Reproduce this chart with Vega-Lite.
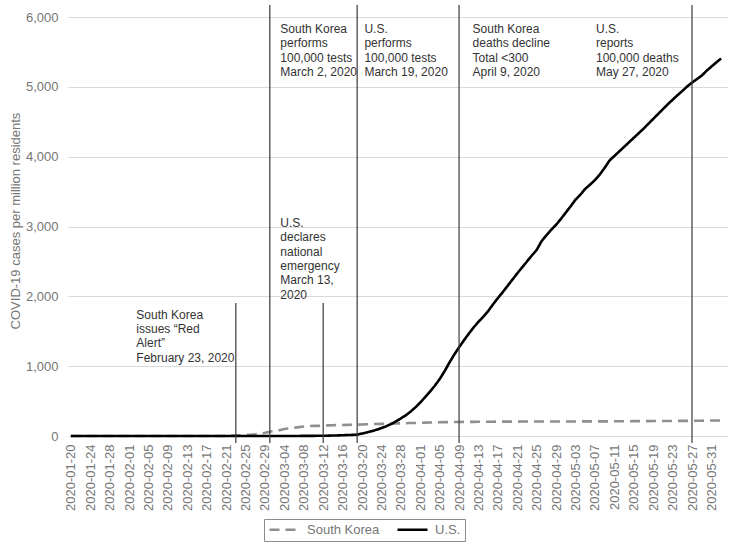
{
  "$schema": "https://vega.github.io/schema/vega-lite/v6.json",
  "width": 660,
  "height": 431,
  "autosize": {"type": "none"},
  "padding": {"left": 68, "top": 5, "right": 1, "bottom": 109},
  "background": "white",
  "config": {
    "view": {"stroke": null},
    "font": "Liberation Sans",
    "axis": {"labelFont": "Liberation Sans", "titleFont": "Liberation Sans"},
    "axisX": {"labelOverlap": false}
  },
  "datasets": {
    "series": [
      {"date":"2020-01-20","country":"South Korea","value":0},
      {"date":"2020-01-21","country":"South Korea","value":0.02},
      {"date":"2020-01-22","country":"South Korea","value":0.02},
      {"date":"2020-01-23","country":"South Korea","value":0.02},
      {"date":"2020-01-24","country":"South Korea","value":0.02},
      {"date":"2020-01-25","country":"South Korea","value":0.04},
      {"date":"2020-01-26","country":"South Korea","value":0.04},
      {"date":"2020-01-27","country":"South Korea","value":0.06},
      {"date":"2020-01-28","country":"South Korea","value":0.08},
      {"date":"2020-01-29","country":"South Korea","value":0.08},
      {"date":"2020-01-30","country":"South Korea","value":0.08},
      {"date":"2020-01-31","country":"South Korea","value":0.13},
      {"date":"2020-02-01","country":"South Korea","value":0.21},
      {"date":"2020-02-02","country":"South Korea","value":0.23},
      {"date":"2020-02-03","country":"South Korea","value":0.29},
      {"date":"2020-02-04","country":"South Korea","value":0.29},
      {"date":"2020-02-05","country":"South Korea","value":0.31},
      {"date":"2020-02-06","country":"South Korea","value":0.37},
      {"date":"2020-02-07","country":"South Korea","value":0.45},
      {"date":"2020-02-08","country":"South Korea","value":0.46},
      {"date":"2020-02-09","country":"South Korea","value":0.46},
      {"date":"2020-02-10","country":"South Korea","value":0.52},
      {"date":"2020-02-11","country":"South Korea","value":0.54},
      {"date":"2020-02-12","country":"South Korea","value":0.54},
      {"date":"2020-02-13","country":"South Korea","value":0.54},
      {"date":"2020-02-14","country":"South Korea","value":0.54},
      {"date":"2020-02-15","country":"South Korea","value":0.54},
      {"date":"2020-02-16","country":"South Korea","value":0.56},
      {"date":"2020-02-17","country":"South Korea","value":0.56},
      {"date":"2020-02-18","country":"South Korea","value":0.58},
      {"date":"2020-02-19","country":"South Korea","value":0.6},
      {"date":"2020-02-20","country":"South Korea","value":1.0},
      {"date":"2020-02-21","country":"South Korea","value":2.0},
      {"date":"2020-02-22","country":"South Korea","value":3.9},
      {"date":"2020-02-23","country":"South Korea","value":8.4},
      {"date":"2020-02-24","country":"South Korea","value":11.6},
      {"date":"2020-02-25","country":"South Korea","value":16.1},
      {"date":"2020-02-26","country":"South Korea","value":18.9},
      {"date":"2020-02-27","country":"South Korea","value":24.4},
      {"date":"2020-02-28","country":"South Korea","value":34.2},
      {"date":"2020-02-29","country":"South Korea","value":45.2},
      {"date":"2020-03-01","country":"South Korea","value":60.9},
      {"date":"2020-03-02","country":"South Korea","value":72.3},
      {"date":"2020-03-03","country":"South Korea","value":83.8},
      {"date":"2020-03-04","country":"South Korea","value":100.3},
      {"date":"2020-03-05","country":"South Korea","value":108.7},
      {"date":"2020-03-06","country":"South Korea","value":117.8},
      {"date":"2020-03-07","country":"South Korea","value":127.5},
      {"date":"2020-03-08","country":"South Korea","value":136.2},
      {"date":"2020-03-09","country":"South Korea","value":141.5},
      {"date":"2020-03-10","country":"South Korea","value":144.6},
      {"date":"2020-03-11","country":"South Korea","value":145.3},
      {"date":"2020-03-12","country":"South Korea","value":150.0},
      {"date":"2020-03-13","country":"South Korea","value":152.2},
      {"date":"2020-03-14","country":"South Korea","value":154.3},
      {"date":"2020-03-15","country":"South Korea","value":156.4},
      {"date":"2020-03-16","country":"South Korea","value":157.9},
      {"date":"2020-03-17","country":"South Korea","value":159.3},
      {"date":"2020-03-18","country":"South Korea","value":160.9},
      {"date":"2020-03-19","country":"South Korea","value":162.7},
      {"date":"2020-03-20","country":"South Korea","value":165.7},
      {"date":"2020-03-21","country":"South Korea","value":167.4},
      {"date":"2020-03-22","country":"South Korea","value":170.2},
      {"date":"2020-03-23","country":"South Korea","value":172.1},
      {"date":"2020-03-24","country":"South Korea","value":173.3},
      {"date":"2020-03-25","country":"South Korea","value":174.8},
      {"date":"2020-03-26","country":"South Korea","value":176.7},
      {"date":"2020-03-27","country":"South Korea","value":178.7},
      {"date":"2020-03-28","country":"South Korea","value":180.5},
      {"date":"2020-03-29","country":"South Korea","value":183.3},
      {"date":"2020-03-30","country":"South Korea","value":185.4},
      {"date":"2020-03-31","country":"South Korea","value":186.9},
      {"date":"2020-04-01","country":"South Korea","value":189.3},
      {"date":"2020-04-02","country":"South Korea","value":191.2},
      {"date":"2020-04-03","country":"South Korea","value":193.0},
      {"date":"2020-04-04","country":"South Korea","value":194.6},
      {"date":"2020-04-05","country":"South Korea","value":196.4},
      {"date":"2020-04-06","country":"South Korea","value":198.0},
      {"date":"2020-04-07","country":"South Korea","value":198.9},
      {"date":"2020-04-08","country":"South Korea","value":199.8},
      {"date":"2020-04-09","country":"South Korea","value":200.9},
      {"date":"2020-04-10","country":"South Korea","value":201.6},
      {"date":"2020-04-11","country":"South Korea","value":202.1},
      {"date":"2020-04-12","country":"South Korea","value":202.7},
      {"date":"2020-04-13","country":"South Korea","value":203.3},
      {"date":"2020-04-14","country":"South Korea","value":203.8},
      {"date":"2020-04-15","country":"South Korea","value":204.3},
      {"date":"2020-04-16","country":"South Korea","value":204.9},
      {"date":"2020-04-17","country":"South Korea","value":205.3},
      {"date":"2020-04-18","country":"South Korea","value":205.7},
      {"date":"2020-04-19","country":"South Korea","value":206.1},
      {"date":"2020-04-20","country":"South Korea","value":206.2},
      {"date":"2020-04-21","country":"South Korea","value":206.5},
      {"date":"2020-04-22","country":"South Korea","value":206.6},
      {"date":"2020-04-23","country":"South Korea","value":206.8},
      {"date":"2020-04-24","country":"South Korea","value":207.0},
      {"date":"2020-04-25","country":"South Korea","value":207.1},
      {"date":"2020-04-26","country":"South Korea","value":207.3},
      {"date":"2020-04-27","country":"South Korea","value":207.5},
      {"date":"2020-04-28","country":"South Korea","value":207.7},
      {"date":"2020-04-29","country":"South Korea","value":208.0},
      {"date":"2020-04-30","country":"South Korea","value":208.1},
      {"date":"2020-05-01","country":"South Korea","value":208.2},
      {"date":"2020-05-02","country":"South Korea","value":208.4},
      {"date":"2020-05-03","country":"South Korea","value":208.5},
      {"date":"2020-05-04","country":"South Korea","value":208.8},
      {"date":"2020-05-05","country":"South Korea","value":208.9},
      {"date":"2020-05-06","country":"South Korea","value":209.0},
      {"date":"2020-05-07","country":"South Korea","value":209.0},
      {"date":"2020-05-08","country":"South Korea","value":209.1},
      {"date":"2020-05-09","country":"South Korea","value":209.3},
      {"date":"2020-05-10","country":"South Korea","value":209.7},
      {"date":"2020-05-11","country":"South Korea","value":210.3},
      {"date":"2020-05-12","country":"South Korea","value":211.0},
      {"date":"2020-05-13","country":"South Korea","value":211.5},
      {"date":"2020-05-14","country":"South Korea","value":212.0},
      {"date":"2020-05-15","country":"South Korea","value":212.6},
      {"date":"2020-05-16","country":"South Korea","value":213.1},
      {"date":"2020-05-17","country":"South Korea","value":213.5},
      {"date":"2020-05-18","country":"South Korea","value":213.7},
      {"date":"2020-05-19","country":"South Korea","value":214.0},
      {"date":"2020-05-20","country":"South Korea","value":214.3},
      {"date":"2020-05-21","country":"South Korea","value":214.9},
      {"date":"2020-05-22","country":"South Korea","value":215.1},
      {"date":"2020-05-23","country":"South Korea","value":215.5},
      {"date":"2020-05-24","country":"South Korea","value":216.0},
      {"date":"2020-05-25","country":"South Korea","value":216.4},
      {"date":"2020-05-26","country":"South Korea","value":216.8},
      {"date":"2020-05-27","country":"South Korea","value":217.1},
      {"date":"2020-05-28","country":"South Korea","value":217.9},
      {"date":"2020-05-29","country":"South Korea","value":219.4},
      {"date":"2020-05-30","country":"South Korea","value":220.5},
      {"date":"2020-05-31","country":"South Korea","value":221.3},
      {"date":"2020-06-01","country":"South Korea","value":221.8},
      {"date":"2020-06-02","country":"South Korea","value":222.5},
      {"date":"2020-01-20","country":"U.S.","value":0},
      {"date":"2020-01-21","country":"U.S.","value":0},
      {"date":"2020-01-22","country":"U.S.","value":0},
      {"date":"2020-01-23","country":"U.S.","value":0},
      {"date":"2020-01-24","country":"U.S.","value":0.01},
      {"date":"2020-01-25","country":"U.S.","value":0.01},
      {"date":"2020-01-26","country":"U.S.","value":0.01},
      {"date":"2020-01-27","country":"U.S.","value":0.02},
      {"date":"2020-01-28","country":"U.S.","value":0.02},
      {"date":"2020-01-29","country":"U.S.","value":0.02},
      {"date":"2020-01-30","country":"U.S.","value":0.02},
      {"date":"2020-01-31","country":"U.S.","value":0.02},
      {"date":"2020-02-01","country":"U.S.","value":0.02},
      {"date":"2020-02-02","country":"U.S.","value":0.02},
      {"date":"2020-02-03","country":"U.S.","value":0.03},
      {"date":"2020-02-04","country":"U.S.","value":0.03},
      {"date":"2020-02-05","country":"U.S.","value":0.03},
      {"date":"2020-02-06","country":"U.S.","value":0.03},
      {"date":"2020-02-07","country":"U.S.","value":0.04},
      {"date":"2020-02-08","country":"U.S.","value":0.04},
      {"date":"2020-02-09","country":"U.S.","value":0.04},
      {"date":"2020-02-10","country":"U.S.","value":0.04},
      {"date":"2020-02-11","country":"U.S.","value":0.04},
      {"date":"2020-02-12","country":"U.S.","value":0.04},
      {"date":"2020-02-13","country":"U.S.","value":0.04},
      {"date":"2020-02-14","country":"U.S.","value":0.05},
      {"date":"2020-02-15","country":"U.S.","value":0.05},
      {"date":"2020-02-16","country":"U.S.","value":0.05},
      {"date":"2020-02-17","country":"U.S.","value":0.05},
      {"date":"2020-02-18","country":"U.S.","value":0.05},
      {"date":"2020-02-19","country":"U.S.","value":0.05},
      {"date":"2020-02-20","country":"U.S.","value":0.05},
      {"date":"2020-02-21","country":"U.S.","value":0.05},
      {"date":"2020-02-22","country":"U.S.","value":0.05},
      {"date":"2020-02-23","country":"U.S.","value":0.05},
      {"date":"2020-02-24","country":"U.S.","value":0.05},
      {"date":"2020-02-25","country":"U.S.","value":0.15},
      {"date":"2020-02-26","country":"U.S.","value":0.16},
      {"date":"2020-02-27","country":"U.S.","value":0.18},
      {"date":"2020-02-28","country":"U.S.","value":0.18},
      {"date":"2020-02-29","country":"U.S.","value":0.19},
      {"date":"2020-03-01","country":"U.S.","value":0.2},
      {"date":"2020-03-02","country":"U.S.","value":0.2},
      {"date":"2020-03-03","country":"U.S.","value":0.3},
      {"date":"2020-03-04","country":"U.S.","value":0.4},
      {"date":"2020-03-05","country":"U.S.","value":0.5},
      {"date":"2020-03-06","country":"U.S.","value":0.7},
      {"date":"2020-03-07","country":"U.S.","value":1.0},
      {"date":"2020-03-08","country":"U.S.","value":1.3},
      {"date":"2020-03-09","country":"U.S.","value":1.6},
      {"date":"2020-03-10","country":"U.S.","value":2.1},
      {"date":"2020-03-11","country":"U.S.","value":3.0},
      {"date":"2020-03-12","country":"U.S.","value":3.9},
      {"date":"2020-03-13","country":"U.S.","value":4.9},
      {"date":"2020-03-14","country":"U.S.","value":6.6},
      {"date":"2020-03-15","country":"U.S.","value":8.4},
      {"date":"2020-03-16","country":"U.S.","value":10.9},
      {"date":"2020-03-17","country":"U.S.","value":13.9},
      {"date":"2020-03-18","country":"U.S.","value":16},
      {"date":"2020-03-19","country":"U.S.","value":20},
      {"date":"2020-03-20","country":"U.S.","value":35},
      {"date":"2020-03-21","country":"U.S.","value":50},
      {"date":"2020-03-22","country":"U.S.","value":68},
      {"date":"2020-03-23","country":"U.S.","value":90},
      {"date":"2020-03-24","country":"U.S.","value":113},
      {"date":"2020-03-25","country":"U.S.","value":140},
      {"date":"2020-03-26","country":"U.S.","value":172},
      {"date":"2020-03-27","country":"U.S.","value":210},
      {"date":"2020-03-28","country":"U.S.","value":252},
      {"date":"2020-03-29","country":"U.S.","value":295},
      {"date":"2020-03-30","country":"U.S.","value":348},
      {"date":"2020-03-31","country":"U.S.","value":410},
      {"date":"2020-04-01","country":"U.S.","value":480},
      {"date":"2020-04-02","country":"U.S.","value":555},
      {"date":"2020-04-03","country":"U.S.","value":635},
      {"date":"2020-04-04","country":"U.S.","value":720},
      {"date":"2020-04-05","country":"U.S.","value":815},
      {"date":"2020-04-06","country":"U.S.","value":925},
      {"date":"2020-04-07","country":"U.S.","value":1050},
      {"date":"2020-04-08","country":"U.S.","value":1165},
      {"date":"2020-04-09","country":"U.S.","value":1270},
      {"date":"2020-04-10","country":"U.S.","value":1370},
      {"date":"2020-04-11","country":"U.S.","value":1465},
      {"date":"2020-04-12","country":"U.S.","value":1555},
      {"date":"2020-04-13","country":"U.S.","value":1635},
      {"date":"2020-04-14","country":"U.S.","value":1710},
      {"date":"2020-04-15","country":"U.S.","value":1790},
      {"date":"2020-04-16","country":"U.S.","value":1885},
      {"date":"2020-04-17","country":"U.S.","value":1975},
      {"date":"2020-04-18","country":"U.S.","value":2060},
      {"date":"2020-04-19","country":"U.S.","value":2150},
      {"date":"2020-04-20","country":"U.S.","value":2240},
      {"date":"2020-04-21","country":"U.S.","value":2330},
      {"date":"2020-04-22","country":"U.S.","value":2415},
      {"date":"2020-04-23","country":"U.S.","value":2500},
      {"date":"2020-04-24","country":"U.S.","value":2585},
      {"date":"2020-04-25","country":"U.S.","value":2665},
      {"date":"2020-04-26","country":"U.S.","value":2790},
      {"date":"2020-04-27","country":"U.S.","value":2875},
      {"date":"2020-04-28","country":"U.S.","value":2955},
      {"date":"2020-04-29","country":"U.S.","value":3025},
      {"date":"2020-04-30","country":"U.S.","value":3110},
      {"date":"2020-05-01","country":"U.S.","value":3200},
      {"date":"2020-05-02","country":"U.S.","value":3290},
      {"date":"2020-05-03","country":"U.S.","value":3385},
      {"date":"2020-05-04","country":"U.S.","value":3455},
      {"date":"2020-05-05","country":"U.S.","value":3540},
      {"date":"2020-05-06","country":"U.S.","value":3600},
      {"date":"2020-05-07","country":"U.S.","value":3665},
      {"date":"2020-05-08","country":"U.S.","value":3745},
      {"date":"2020-05-09","country":"U.S.","value":3840},
      {"date":"2020-05-10","country":"U.S.","value":3945},
      {"date":"2020-05-11","country":"U.S.","value":4010},
      {"date":"2020-05-12","country":"U.S.","value":4075},
      {"date":"2020-05-13","country":"U.S.","value":4140},
      {"date":"2020-05-14","country":"U.S.","value":4205},
      {"date":"2020-05-15","country":"U.S.","value":4270},
      {"date":"2020-05-16","country":"U.S.","value":4335},
      {"date":"2020-05-17","country":"U.S.","value":4400},
      {"date":"2020-05-18","country":"U.S.","value":4470},
      {"date":"2020-05-19","country":"U.S.","value":4540},
      {"date":"2020-05-20","country":"U.S.","value":4610},
      {"date":"2020-05-21","country":"U.S.","value":4680},
      {"date":"2020-05-22","country":"U.S.","value":4750},
      {"date":"2020-05-23","country":"U.S.","value":4815},
      {"date":"2020-05-24","country":"U.S.","value":4880},
      {"date":"2020-05-25","country":"U.S.","value":4940},
      {"date":"2020-05-26","country":"U.S.","value":5005},
      {"date":"2020-05-27","country":"U.S.","value":5060},
      {"date":"2020-05-28","country":"U.S.","value":5110},
      {"date":"2020-05-29","country":"U.S.","value":5160},
      {"date":"2020-05-30","country":"U.S.","value":5230},
      {"date":"2020-05-31","country":"U.S.","value":5290},
      {"date":"2020-06-01","country":"U.S.","value":5350},
      {"date":"2020-06-02","country":"U.S.","value":5405}
    ],
    "events": [
      {"date":"2020-02-23","top":1905,"bottom":-100},
      {"date":"2020-03-01","top":6172,"bottom":-100},
      {"date":"2020-03-12","top":1905,"bottom":-100},
      {"date":"2020-03-19","top":6172,"bottom":-100},
      {"date":"2020-04-09","top":6172,"bottom":-100},
      {"date":"2020-05-27","top":6172,"bottom":-100}
    ],
    "notes": [
      {"date":"2020-02-02T12:00:00Z","y":1809,"label":"South Korea\nissues “Red\nAlert”\nFebruary 23, 2020"},
      {"date":"2020-03-03T04:00:00Z","y":3126,"label":"U.S.\ndeclares\nnational\nemergency\nMarch 13,\n\u00a02020"},
      {"date":"2020-03-03T04:00:00Z","y":5904,"label":"South Korea\nperforms\n100,000 tests\nMarch 2, 2020"},
      {"date":"2020-03-20T12:00:00Z","y":5904,"label":"U.S.\nperforms\n100,000 tests\nMarch 19, 2020"},
      {"date":"2020-04-11T19:00:00Z","y":5904,"label":"South Korea\ndeaths decline\nTotal <300\nApril 9, 2020"},
      {"date":"2020-05-07T05:00:00Z","y":5904,"label":"U.S.\nreports\n100,000 deaths\nMay 27, 2020"}
    ]
  },
  "layer": [
    {
      "data": {"name": "series"},
      "mark": {"type": "line", "strokeWidth": 2.6},
      "encoding": {
        "x": {
          "field": "date", "type": "temporal",
          "scale": {"type": "utc", "nice": false, "domain": [
            {"year": 2020, "month": 1, "date": 19, "hours": 10, "utc": true},
            {"year": 2020, "month": 6, "date": 3, "hours": 10, "utc": true}
          ]},
          "axis": {
            "title": null, "grid": false, "domain": false, "ticks": false,
            "labelAngle": -90, "labelAlign": "right", "labelBaseline": "middle",
            "labelPadding": 8, "labelFontSize": 13, "labelColor": "#767676",
            "labelOverlap": false, "labelBound": false, "labelFlush": false,
            "tickCount": 60,
            "labelExpr": "utcFormat(datum.value, '%Y-%m-%d')",
            "values": [
              {"year":2020,"month":1,"date":20,"utc":true},
              {"year":2020,"month":1,"date":24,"utc":true},
              {"year":2020,"month":1,"date":28,"utc":true},
              {"year":2020,"month":2,"date":1,"utc":true},
              {"year":2020,"month":2,"date":5,"utc":true},
              {"year":2020,"month":2,"date":9,"utc":true},
              {"year":2020,"month":2,"date":13,"utc":true},
              {"year":2020,"month":2,"date":17,"utc":true},
              {"year":2020,"month":2,"date":21,"utc":true},
              {"year":2020,"month":2,"date":25,"utc":true},
              {"year":2020,"month":2,"date":29,"utc":true},
              {"year":2020,"month":3,"date":4,"utc":true},
              {"year":2020,"month":3,"date":8,"utc":true},
              {"year":2020,"month":3,"date":12,"utc":true},
              {"year":2020,"month":3,"date":16,"utc":true},
              {"year":2020,"month":3,"date":20,"utc":true},
              {"year":2020,"month":3,"date":24,"utc":true},
              {"year":2020,"month":3,"date":28,"utc":true},
              {"year":2020,"month":4,"date":1,"utc":true},
              {"year":2020,"month":4,"date":5,"utc":true},
              {"year":2020,"month":4,"date":9,"utc":true},
              {"year":2020,"month":4,"date":13,"utc":true},
              {"year":2020,"month":4,"date":17,"utc":true},
              {"year":2020,"month":4,"date":21,"utc":true},
              {"year":2020,"month":4,"date":25,"utc":true},
              {"year":2020,"month":4,"date":29,"utc":true},
              {"year":2020,"month":5,"date":3,"utc":true},
              {"year":2020,"month":5,"date":7,"utc":true},
              {"year":2020,"month":5,"date":11,"utc":true},
              {"year":2020,"month":5,"date":15,"utc":true},
              {"year":2020,"month":5,"date":19,"utc":true},
              {"year":2020,"month":5,"date":23,"utc":true},
              {"year":2020,"month":5,"date":27,"utc":true},
              {"year":2020,"month":5,"date":31,"utc":true}
            ]
          }
        },
        "y": {
          "field": "value", "type": "quantitative",
          "scale": {"domain": [0, 6172], "nice": false, "zero": true},
          "axis": {
            "title": "COVID-19 cases per million residents",
            "titleFontSize": 13, "titleFontWeight": "normal", "titleColor": "#767676",
            "titlePadding": 3,
            "values": [0, 1000, 2000, 3000, 4000, 5000, 6000],
            "format": ",d", "labelFontSize": 13, "labelColor": "#767676",
            "labelPadding": 10, "domain": false, "ticks": false,
            "grid": true, "gridColor": "#d9d9d9", "gridWidth": 1
          }
        },
        "color": {
          "field": "country", "type": "nominal",
          "scale": {"domain": ["South Korea", "U.S."], "range": ["#8f8f8f", "#000000"]},
          "legend": {
            "title": null, "orient": "none", "legendX": 196, "legendY": 514,
            "direction": "horizontal", "strokeColor": "#8c8c8c", "fillColor": "white",
            "padding": 4, "symbolType": "stroke", "symbolSize": 900, "symbolStrokeWidth": 2.6,
            "clipHeight": 13,
            "labelFontSize": 13, "labelColor": "#767676", "labelFont": "Liberation Sans",
            "columnPadding": 16, "labelOffset": 6
          }
        },
        "strokeDash": {
          "field": "country", "type": "nominal",
          "scale": {"domain": ["South Korea", "U.S."], "range": [[10, 6], [1, 0]]},
          "legend": {
            "title": null, "orient": "none", "legendX": 196, "legendY": 514,
            "direction": "horizontal", "strokeColor": "#8c8c8c", "fillColor": "white",
            "padding": 4, "symbolType": "stroke", "symbolSize": 900, "symbolStrokeWidth": 2.6,
            "clipHeight": 13,
            "labelFontSize": 13, "labelColor": "#767676", "labelFont": "Liberation Sans",
            "columnPadding": 16, "labelOffset": 6
          }
        }
      }
    },
    {
      "data": {"name": "events"},
      "mark": {"type": "rule", "color": "#3a3a3a", "strokeWidth": 1.2},
      "encoding": {
        "x": {"field": "date", "type": "temporal"},
        "y": {"field": "top", "type": "quantitative"},
        "y2": {"field": "bottom"}
      }
    },
    {
      "data": {"name": "notes"},
      "mark": {"type": "text", "align": "left", "baseline": "top", "lineBreak": "\n", "fontSize": 12, "lineHeight": 14.4, "font": "Liberation Sans", "color": "#333333"},
      "encoding": {
        "x": {"field": "date", "type": "temporal"},
        "y": {"field": "y", "type": "quantitative"},
        "text": {"field": "label"}
      }
    }
  ]
}
